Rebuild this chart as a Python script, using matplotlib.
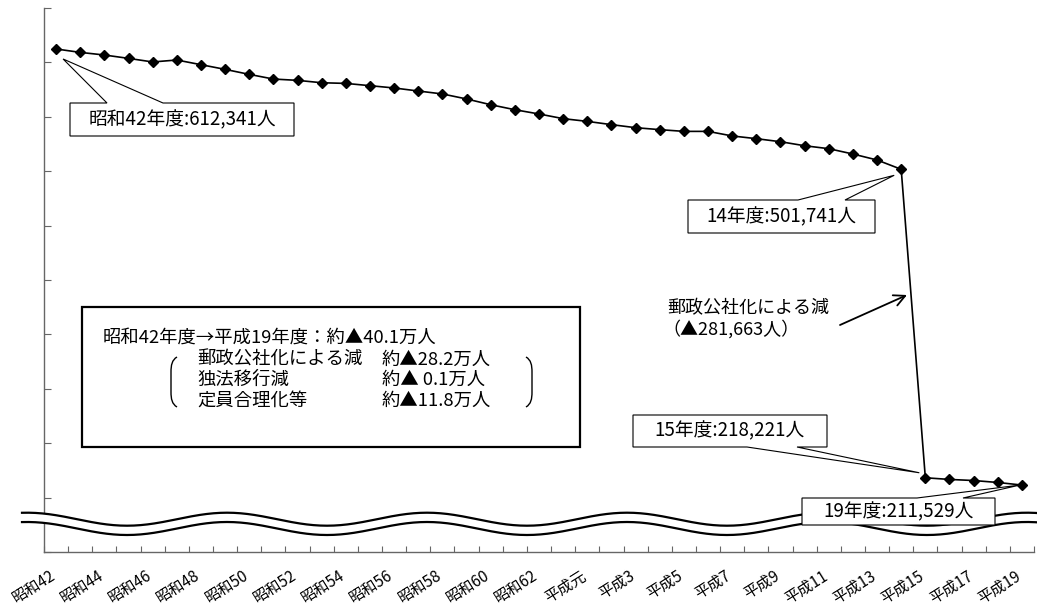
import numpy as np
import matplotlib

matplotlib.use("Agg")
import matplotlib.pyplot as plt
from matplotlib.lines import Line2D
from matplotlib.patches import FancyArrowPatch, PathPatch, Polygon, Rectangle
from matplotlib.path import Path
from matplotlib.transforms import Affine2D, ScaledTranslation

plt.rcParams["font.family"] = ["Noto Sans CJK JP", "DejaVu Sans"]

# 年度ラベル（昭和42〜平成19）
fiscal_years = [f"昭和{y}" for y in range(42, 64)] + ["平成元"] + [f"平成{y}" for y in range(2, 20)]
# 国家公務員数（人）
staff = [
    612341, 609200, 606800, 603700, 600400, 602200, 597900, 593600, 589000, 584700,
    583500, 581300, 580700, 578600, 576500, 573700, 571000, 566400, 561100, 556500,
    552600, 548300, 545800, 542800, 540000, 538200, 536600, 536600, 532400, 529900,
    527100, 523400, 520700, 515800, 510300, 501741, 218221, 216700, 215700, 213900,
    211529,
]
label_idx = list(range(0, len(fiscal_years), 2))
y_ticks = list(range(150000, 650001, 50000))

callouts = [
    # (index, text, box (x0, y0, x1, y1), side, wedge base x0, x1, tip offset)
    (0, "昭和42年度:612,341人", (70, 103, 294, 136), "top", 107, 163, (7, 10)),
    (35, "14年度:501,741人", (688, 200, 875, 233), "top", 798, 845, (-7, 6)),
    (36, "15年度:218,221人", (633, 415, 827, 447), "bottom", 747, 797, (-6, -5)),
    (40, "19年度:211,529人", (802, 498, 995, 525), "top", 917, 963, (-2, 0)),
]

W, H = 1037, 607
fig = plt.figure(figsize=(W / 100, H / 100), dpi=100)
ax = fig.add_axes([44 / W, 1 - 552 / H, (1034 - 44) / W, (552 - 8) / H])
pix = Affine2D().scale(1, -1).translate(0, H)

x = np.arange(len(staff))
ax.plot(x, staff, color="black", lw=1.2, marker="D", ms=5, zorder=3)
ax.set_xlim(-0.5, len(staff) - 0.5)
ax.set_ylim(y_ticks[0], y_ticks[-1])
ax.set_yticks(y_ticks)
ax.set_yticklabels([])
ax.tick_params(axis="y", direction="in", length=5, color="#666666", width=0.8)
ax.set_xticks(np.arange(-0.5, len(staff), 1), minor=True)
ax.set_xticks(label_idx)
ax.set_xticklabels([fiscal_years[i] for i in label_idx], rotation=32, ha="right",
                   va="top", rotation_mode="anchor", fontsize=11)
ax.tick_params(axis="x", which="major", length=0, pad=11)
ax.tick_params(axis="x", which="minor", direction="in", length=4, color="#666666", width=0.8)
offset = ScaledTranslation(-5 / 72, 0, fig.dpi_scale_trans)
for lab in ax.get_xticklabels():
    lab.set_transform(lab.get_transform() + offset)
for side in ["top", "right"]:
    ax.spines[side].set_visible(False)
for side in ["left", "bottom"]:
    ax.spines[side].set_color("#666666")
    ax.spines[side].set_linewidth(1.0)

# 波線（軸の省略）
xs = np.linspace(22, W, 600)
yu = 519.2 + 6.5 * np.cos(2 * np.pi * (xs - 127) / 200)
yl = yu + 9.3
band = np.vstack([np.column_stack([xs, yu]), np.column_stack([xs[::-1], yl[::-1]])])
fig.add_artist(Polygon(band, closed=True, transform=pix, facecolor="white", edgecolor="none", zorder=4))
fig.add_artist(Line2D(xs, yu, transform=pix, color="black", lw=1.6, zorder=4))
fig.add_artist(Line2D(xs, yl, transform=pix, color="black", lw=1.6, zorder=4))

# 吹き出し
for i, text, (x0, y0, x1, y1), side, b0, b1, (ox, oy) in callouts:
    dx, dy = ax.transData.transform((x[i], staff[i]))
    tip = (dx + ox, H - dy + oy)
    if side == "top":
        verts = [(x0, y0), (b0, y0), tip, (b1, y0), (x1, y0), (x1, y1), (x0, y1)]
    else:
        verts = [(x0, y0), (x1, y0), (x1, y1), (b1, y1), tip, (b0, y1), (x0, y1)]
    fig.add_artist(Polygon(verts, closed=True, transform=pix, facecolor="white",
                           edgecolor="black", lw=0.8, zorder=6))
    fig.text((x0 + x1) / 2, (y0 + y1) / 2, text, transform=pix, ha="center", va="center",
             fontsize=13.5, zorder=7)

# 郵政公社化の矢印
fig.text(667, 308, "郵政公社化による減", transform=pix, ha="left", va="center", fontsize=13, zorder=7)
fig.text(662, 329, "（▲281,663人）", transform=pix, ha="left", va="center", fontsize=13, zorder=7)
fig.add_artist(FancyArrowPatch((840, 325), (907, 295), transform=pix,
                               arrowstyle="->,head_length=0.8,head_width=0.4", mutation_scale=10,
                               color="black", lw=1.3, shrinkA=0, shrinkB=0, zorder=7))

# 内訳ボックス
fig.add_artist(Rectangle((82, 307), 580 - 82, 447 - 307, transform=pix, facecolor="white",
                         edgecolor="black", lw=1.6, zorder=5))
fig.text(103, 338, "昭和42年度→平成19年度：約▲40.1万人", transform=pix, ha="left", va="center",
         fontsize=13.2, zorder=7)
rows = [("郵政公社化による減", "約▲28.2万人"), ("独法移行減", "約▲ 0.1万人"), ("定員合理化等", "約▲11.8万人")]
for (name, amount), yy in zip(rows, [360, 380, 401]):
    fig.text(197, yy, name, transform=pix, ha="left", va="center", fontsize=13.2, zorder=7)
    fig.text(382, yy, amount, transform=pix, ha="left", va="center", fontsize=13.2, zorder=7)

for px0, sgn in [(177, -1), (526, 1)]:
    e = px0 + sgn * 6
    verts = [(px0, 357), (e - sgn * 1, 360), (e, 365), (e, 372), (e, 392), (e, 399),
             (e - sgn * 1, 404), (px0, 407)]
    codes = [Path.MOVETO, Path.CURVE4, Path.CURVE4, Path.CURVE4, Path.LINETO,
             Path.CURVE4, Path.CURVE4, Path.CURVE4]
    fig.add_artist(PathPatch(Path(verts, codes), transform=pix, facecolor="none",
                             edgecolor="black", lw=1.0, zorder=7))

fig.savefig("out.png", dpi=100)
